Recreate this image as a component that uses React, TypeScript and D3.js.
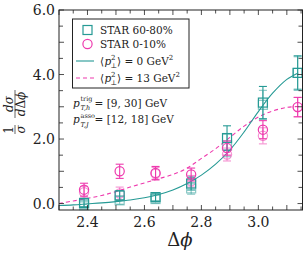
import React from 'react';
import * as d3 from 'd3';

// bin centres (Δφ)
const dphi = [2.388, 2.513, 2.639, 2.764, 2.89, 3.016, 3.138];

// STAR 60-80% (two overlapping sets)
const star6080a = [0.02, 0.25, 0.2, 0.62, 2.03, 3.13, 4.05];
const star6080aErr = [0.12, 0.15, 0.12, 0.2, 0.38, 0.5, 0.53];
const star6080b = [-0.05, 0.1, 0.14, 0.47, 1.8, 3.06, 4.05];
const star6080bErr = [0.1, 0.12, 0.12, 0.18, 0.35, 0.45, 0.5];

// STAR 0-10%
const star010a = [0.43, 1.0, 0.95, 0.9, 1.72, 2.29, 2.99];
const star010aErr = [0.2, 0.22, 0.2, 0.2, 0.22, 0.28, 0.3];
const star010b = [0.35, 0.31, 0.92, 0.69, 1.52, 2.1, 2.99];
const star010bErr = [0.18, 0.2, 0.2, 0.18, 0.2, 0.25, 0.3];

// theory curves
const curveX = [2.3, 2.35, 2.4, 2.45, 2.5, 2.55, 2.6, 2.65, 2.7, 2.75, 2.8, 2.85, 2.9, 2.95, 3.0, 3.05, 3.1, 3.14];
const curveP0 = [-0.06, -0.04, -0.01, 0.02, 0.06, 0.11, 0.18, 0.28, 0.42, 0.62, 0.88, 1.22, 1.66, 2.22, 2.85, 3.42, 3.85, 4.05];
const curveP13 = [0.0, 0.08, 0.16, 0.25, 0.37, 0.51, 0.64, 0.77, 0.9, 1.1, 1.4, 1.7, 2.05, 2.4, 2.68, 2.87, 2.98, 3.01];

const yTickLabels = ['0.0', '2.0', '4.0', '6.0'];
const xTickLabels = ['2.4', '2.6', '2.8', '3.0'];

const TEAL = '#269a95';
const PINK = '#ee3aae';
const FONT = 'DejaVu Serif';

const W = 303;
const H = 254;
const left = 59, right = 302.5, top = 10, bottom = 210;

export default function App() {
  const x = d3.scaleLinear().domain([2.3, 3.155]).range([left, right]);
  const y = d3.scaleLinear().domain([-0.2, 6.0]).range([bottom, top]);

  const line = d3.line<number>().x((_, i) => x(curveX[i])).y(d => y(d)).curve(d3.curveCatmullRom);

  const xMinor = d3.range(2.3, 3.16, 0.05);
  const yMinor = d3.range(0, 6.01, 0.5);

  const errBars = (vals: number[], errs: number[], color: string, op: number, key: string) =>
    vals.map((v, i) => {
      const cx = x(dphi[i]);
      return (
        <g key={key + i} stroke={color} strokeWidth={1.1} opacity={op}>
          <line x1={cx} x2={cx} y1={y(v - errs[i])} y2={y(v + errs[i])} />
          <line x1={cx - 4} x2={cx + 4} y1={y(v - errs[i])} y2={y(v - errs[i])} />
          <line x1={cx - 4} x2={cx + 4} y1={y(v + errs[i])} y2={y(v + errs[i])} />
        </g>
      );
    });

  const squares = (vals: number[], op: number, key: string) =>
    vals.map((v, i) => (
      <rect key={key + i} x={x(dphi[i]) - 4.5} y={y(v) - 4.5} width={9} height={9}
        fill="none" stroke={TEAL} strokeWidth={1.2} opacity={op} />
    ));

  const circles = (vals: number[], op: number, key: string) =>
    vals.map((v, i) => (
      <circle key={key + i} cx={x(dphi[i])} cy={y(v)} r={4.6}
        fill="none" stroke={PINK} strokeWidth={1.2} opacity={op} />
    ));

  return (
    <svg width={W} height={H}
      style={{ position: 'absolute', left: 0, top: 0, background: '#fff' }}>
      <defs>
        <clipPath id="plot">
          <rect x={left} y={top} width={right - left} height={bottom - top} />
        </clipPath>
      </defs>

      {/* curves */}
      <g clipPath="url(#plot)" fill="none">
        <path d={line(curveP13) ?? ''} stroke={PINK} strokeWidth={1.1} strokeDasharray="4,3" />
        <path d={line(curveP0) ?? ''} stroke={TEAL} strokeWidth={1.1} />
      </g>

      {/* data */}
      {errBars(star6080b, star6080bErr, TEAL, 0.55, 'tbE')}
      {errBars(star010b, star010bErr, PINK, 0.55, 'pbE')}
      {squares(star6080b, 0.55, 'tb')}
      {circles(star010b, 0.55, 'pb')}
      {errBars(star6080a, star6080aErr, TEAL, 1, 'taE')}
      {errBars(star010a, star010aErr, PINK, 1, 'paE')}
      {squares(star6080a, 1, 'ta')}
      {circles(star010a, 1, 'pa')}

      {/* frame */}
      <rect x={left} y={top} width={right - left} height={bottom - top} fill="none" stroke="#222" strokeWidth={1} />

      {/* ticks */}
      <g stroke="#222" strokeWidth={0.8}>
        {xMinor.map((t, i) => {
          const len = i % 2 === 0 ? 5 : 3.5;
          return (
            <g key={'xt' + i}>
              <line x1={x(t)} x2={x(t)} y1={bottom} y2={bottom - len} />
              <line x1={x(t)} x2={x(t)} y1={top} y2={top + len} />
            </g>
          );
        })}
        {yMinor.map((t, i) => {
          const len = i % 2 === 0 ? 5 : 4;
          return (
            <g key={'yt' + i}>
              <line x1={left} x2={left + len} y1={y(t)} y2={y(t)} />
              <line x1={right} x2={right - len} y1={y(t)} y2={y(t)} />
            </g>
          );
        })}
      </g>

      {/* tick labels */}
      <g fontSize={14} fill="#222" fontFamily={FONT}>
        {yTickLabels.map(l => (
          <text key={'yl' + l} x={left - 4} y={y(+l) + 5} textAnchor="end">{l}</text>
        ))}
        {xTickLabels.map(l => (
          <text key={'xl' + l} x={x(+l)} y={227} textAnchor="middle">{l}</text>
        ))}
      </g>

      {/* axis titles */}
      <text x={180} y={246} fontSize={18} textAnchor="middle" fill="#222" fontFamily={FONT}>
        Δ<tspan fontStyle="italic">ϕ</tspan>
      </text>
      <g transform="translate(15,112) rotate(-90)" fill="#222" fontSize={12} fontFamily={FONT}>
        <text x={-18} y={-2.5} textAnchor="middle">1</text>
        <line x1={-22} x2={-13} y1={0} y2={0} stroke="#222" strokeWidth={0.7} />
        <text x={-17.5} y={9.5} textAnchor="middle" fontStyle="italic">σ</text>
        <text x={8} y={-2.5} textAnchor="middle" fontStyle="italic">dσ</text>
        <line x1={-6} x2={22} y1={0} y2={0} stroke="#222" strokeWidth={0.7} />
        <text x={8} y={10} textAnchor="middle"><tspan fontStyle="italic">d</tspan>Δ<tspan fontStyle="italic">ϕ</tspan></text>
      </g>

      {/* legend */}
      <rect x={72.5} y={19} width={116.5} height={69} fill="#fff" stroke="#222" strokeWidth={1} />
      <g fontSize={10.5} fill="#222" fontFamily={FONT}>
        <rect x={83} y={25.5} width={9} height={9} fill="none" stroke={TEAL} strokeWidth={1.2} />
        <text x={100} y={34}>STAR 60-80%</text>
        <circle cx={87.5} cy={44} r={4.6} fill="none" stroke={PINK} strokeWidth={1.2} />
        <text x={100} y={48}>STAR 0-10%</text>
        <line x1={76} x2={94} y1={61} y2={61} stroke={TEAL} strokeWidth={1.1} />
        <text x={100} y={65}>⟨</text>
        <text x={104.5} y={65} fontStyle="italic">p</text>
        <text x={111} y={60} fontSize={7}>2</text>
        <text x={110.5} y={68} fontSize={7}>⊥</text>
        <text x={117} y={65}>⟩ = 0 GeV<tspan dy={-5} fontSize={7}>2</tspan></text>
        <line x1={76} x2={94} y1={78} y2={78} stroke={PINK} strokeWidth={1.1} strokeDasharray="4,3" />
        <text x={100} y={82}>⟨</text>
        <text x={104.5} y={82} fontStyle="italic">p</text>
        <text x={111} y={77} fontSize={7}>2</text>
        <text x={110.5} y={85} fontSize={7}>⊥</text>
        <text x={117} y={82}>⟩ = 13 GeV<tspan dy={-5} fontSize={7}>2</tspan></text>
      </g>

      {/* kinematics */}
      <g fontSize={10.5} fill="#222" fontFamily={FONT}>
        <text x={73} y={106.5} fontStyle="italic">p</text>
        <text x={80.5} y={100.5} fontSize={6.5}>trig</text>
        <text x={80.5} y={109.5} fontSize={6.5} fontStyle="italic">T,h</text>
        <text x={94.5} y={106.5}>= [9, 30] GeV</text>
        <text x={73} y={123} fontStyle="italic">p</text>
        <text x={80.5} y={117.5} fontSize={6.5}>asso</text>
        <text x={80.5} y={126.5} fontSize={6.5} fontStyle="italic">T,J</text>
        <text x={94.5} y={123}>= [12, 18] GeV</text>
      </g>
    </svg>
  );
}
